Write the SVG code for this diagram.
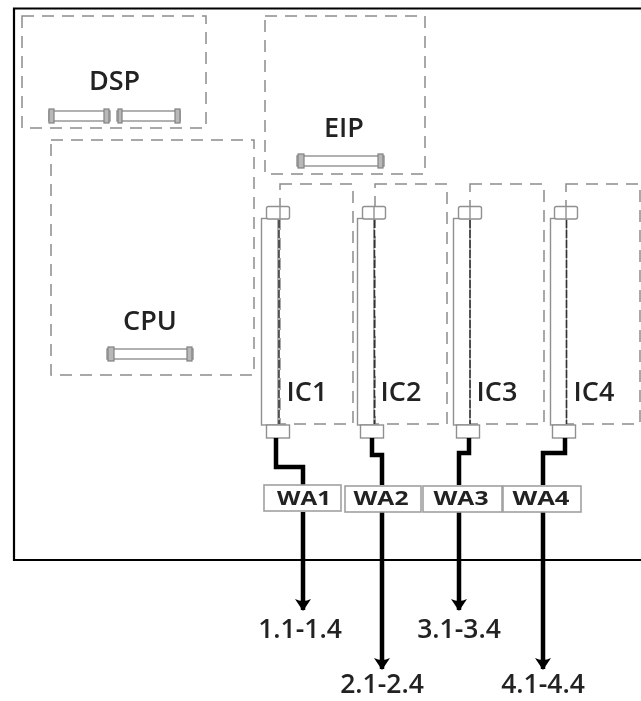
<svg xmlns="http://www.w3.org/2000/svg" width="641" height="701" viewBox="0 0 641 701">
<defs>
<marker id="arrow" markerUnits="userSpaceOnUse" markerWidth="18" markerHeight="14" refX="9" refY="12" orient="0" viewBox="0 0 18 14"><path d="M1 1 Q9 5 17 1 L9 13 Z" fill="#000"/></marker>
<filter id="soft" x="-5%" y="-5%" width="110%" height="110%"><feGaussianBlur stdDeviation="0.55"/></filter>
</defs>
<style>
.region{fill:none;stroke:#8c8c8c;stroke-width:1.5;stroke-dasharray:12 8}
.bus{fill:#fff;stroke:#909090;stroke-width:1.4}
.cap{fill:#b8b8b8;stroke:#808080;stroke-width:1.2}
.lab{font-family:"Open Sans","Noto Sans",sans-serif;font-weight:600;fill:#222;text-anchor:middle;font-size:27px}
.num{font-size:26.500px}
.wa{font-family:"Open Sans","Noto Sans",sans-serif;font-weight:700;font-size:20px;fill:#222;text-anchor:middle}
.box{fill:#fff;stroke:#a0a0a0;stroke-width:1.6}
.wire{fill:none;stroke:#000;stroke-width:4.500;stroke-linejoin:miter}
.thin{fill:none;stroke:#333;stroke-width:1.5;stroke-dasharray:8 2}
</style>
<rect width="641" height="701" fill="#fff"/>
<g filter="url(#soft)">
<path id="frame" d="M641 8.500H14V560H641" fill="none" stroke="#000" stroke-width="2.200"/>
<g id="dsp">
<rect class="region" x="22" y="16" width="184" height="112"/>
<text class="lab" x="114.500" y="90">DSP</text>
<rect class="bus" x="49" y="111" width="61" height="10"/><rect class="cap" x="49" y="109" width="5" height="14"/><rect class="cap" x="104" y="109" width="5" height="14"/>
<rect class="bus" x="117" y="111" width="63" height="10"/><rect class="cap" x="118" y="109" width="4" height="14"/><rect class="cap" x="175" y="109" width="5" height="14"/>
</g>
<g id="cpu">
<rect class="region" x="51" y="140" width="203" height="235"/>
<text class="lab" x="150" y="330">CPU</text>
<rect class="bus" x="107" y="349" width="86" height="10"/><rect class="cap" x="108" y="347" width="6" height="14"/><rect class="cap" x="187" y="347" width="5" height="14"/>
</g>
<g id="eip">
<rect class="region" x="265" y="16" width="160" height="158"/>
<text class="lab" x="344" y="137">EIP</text>
<rect class="bus" x="297" y="156" width="87" height="10"/><rect class="cap" x="298" y="154" width="6" height="14"/><rect class="cap" x="378" y="154" width="5" height="14"/>
</g>
<g id="ic1">
<rect class="region" x="280" y="184" width="73" height="240"/>
<rect class="bus" x="261.500" y="218.500" width="16.500" height="206.500"/>
<rect class="bus" x="266.500" y="206.500" width="23" height="12.500" rx="2"/><path class="bus" d="M280 206.500V219"/>
<rect class="bus" x="266.500" y="425" width="23" height="13"/>
<path class="thin" d="M279 220V424"/>
<text class="lab" x="307" y="401">IC1</text>
</g>
<g id="ic2">
<rect class="region" x="375" y="184" width="72" height="240"/>
<rect class="bus" x="357.500" y="218.500" width="16.500" height="206.500"/>
<rect class="bus" x="362.500" y="206.500" width="23" height="12.500" rx="2"/><path class="bus" d="M374 206.500V219"/>
<rect class="bus" x="360.500" y="425" width="23" height="13"/>
<path class="thin" d="M374.500 220V424"/>
<text class="lab" x="401" y="401">IC2</text>
</g>
<g id="ic3">
<rect class="region" x="470" y="184" width="74" height="240"/>
<rect class="bus" x="453.500" y="218.500" width="16.500" height="206.500"/>
<rect class="bus" x="458.500" y="206.500" width="23" height="12.500" rx="2"/><path class="bus" d="M470 206.500V219"/>
<rect class="bus" x="456.500" y="425" width="23" height="13"/>
<path class="thin" d="M470 220V424"/>
<text class="lab" x="497" y="401">IC3</text>
</g>
<g id="ic4">
<rect class="region" x="566" y="184" width="74" height="240"/>
<rect class="bus" x="550.500" y="218.500" width="16" height="206.500"/>
<rect class="bus" x="554.500" y="206.500" width="23" height="12.500" rx="2"/><path class="bus" d="M566 206.500V219"/>
<rect class="bus" x="552.500" y="425" width="23" height="13"/>
<path class="thin" d="M566.500 220V424"/>
<text class="lab" x="594" y="401">IC4</text>
</g>
<g id="connectors">
<path class="wire" d="M276 438V467H303V485M303 512V610" marker-end="url(#arrow)"/>
<path class="wire" d="M372 438V455H382V485M382 512V669" marker-end="url(#arrow)"/>
<path class="wire" d="M469 438V453H459V485M459 512V610" marker-end="url(#arrow)"/>
<path class="wire" d="M565 438V453H543V485M543 512V669" marker-end="url(#arrow)"/>
</g>
<g id="wa1"><rect class="box" x="264" y="485" width="77" height="26"/><text class="wa" x="304" y="505" textLength="54" lengthAdjust="spacingAndGlyphs">WA1</text></g>
<g id="wa2"><rect class="box" x="345" y="486" width="76" height="26"/><text class="wa" x="381" y="505" textLength="55" lengthAdjust="spacingAndGlyphs">WA2</text></g>
<g id="wa3"><rect class="box" x="423" y="486" width="79" height="26"/><text class="wa" x="461" y="505" textLength="55" lengthAdjust="spacingAndGlyphs">WA3</text></g>
<g id="wa4"><rect class="box" x="503" y="486" width="78" height="26"/><text class="wa" x="541" y="505" textLength="57" lengthAdjust="spacingAndGlyphs">WA4</text></g>
<g id="labels">
<text class="lab num" x="300" y="638">1.1-1.4</text>
<text class="lab num" x="382" y="693">2.1-2.4</text>
<text class="lab num" x="459" y="638">3.1-3.4</text>
<text class="lab num" x="543" y="693">4.1-4.4</text>
</g>
</g>
</svg>
